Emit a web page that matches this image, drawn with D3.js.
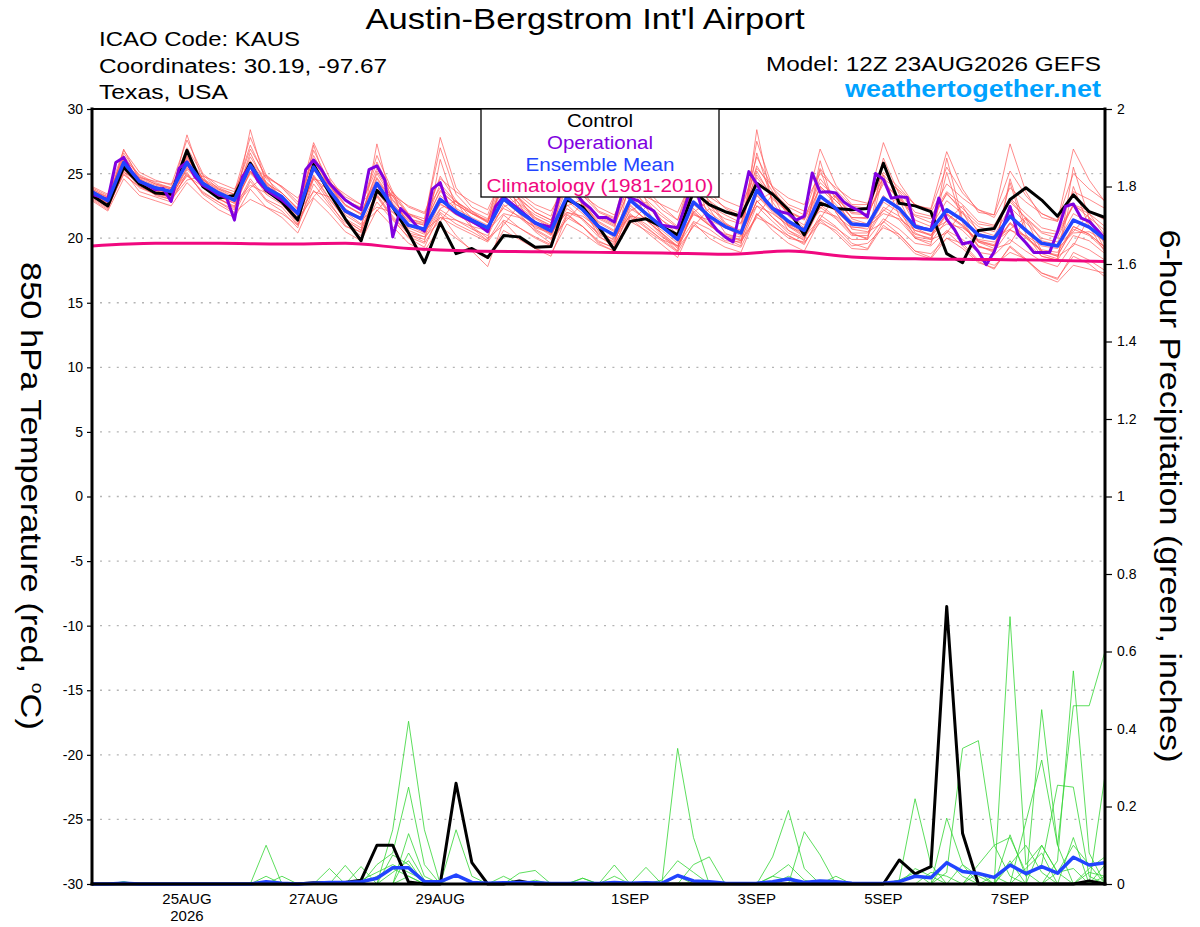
<!DOCTYPE html>
<html>
<head>
<meta charset="utf-8">
<script src="https://cdn.jsdelivr.net/npm/d3@7"></script>
<style>
  html, body { margin: 0; padding: 0; background: #fff; }
  svg { display: block; font-family: "Liberation Sans", Arial, Helvetica, sans-serif; }
</style>
</head>
<body>
<div id="chart"></div>
<script>
// ============================================================================
// GEFS METEOGRAM - KAUS 850 hPa TEMPERATURE + 6-HOUR PRECIPITATION
// ============================================================================

// --- Run / time axis ---
const runStart = new Date(Date.UTC(2026, 7, 23, 12));
const runEnd = new Date(Date.UTC(2026, 8, 8, 12));
const dateTicks = [
  new Date(Date.UTC(2026, 7, 25)), new Date(Date.UTC(2026, 7, 27)),
  new Date(Date.UTC(2026, 7, 29)), new Date(Date.UTC(2026, 8, 1)),
  new Date(Date.UTC(2026, 8, 3)), new Date(Date.UTC(2026, 8, 5)),
  new Date(Date.UTC(2026, 8, 7))
];
const dateTickLabels = ["25AUG", "27AUG", "29AUG", "1SEP", "3SEP", "5SEP", "7SEP"];
const tempTicks = [30, 25, 20, 15, 10, 5, 0, -5, -10, -15, -20, -25, -30];
const precipTicks = [0, 0.2, 0.4, 0.6, 0.8, 1, 1.2, 1.4, 1.6, 1.8, 2];

// --- 850 hPa temperature (C), 6-hourly ---
const controlTemp = [23.3, 22.5, 25.5, 24.2, 23.5, 23.4, 26.8, 24.0, 23.1, 23.3,
  25.8, 23.7, 22.8, 21.4, 25.7, 23.5, 21.5, 19.8, 23.7, 22.4,
  20.4, 18.1, 21.2, 18.8, 19.2, 18.5, 20.2, 20.1, 19.3, 19.35,
  23.0, 22.4, 20.9, 19.1, 21.3, 21.5, 20.9, 20.25, 23.6, 22.6,
  22.05, 21.7, 24.25, 23.4, 22.2, 20.25, 22.7, 22.3, 22.2, 22.3,
  25.8, 22.7, 22.5, 22.05, 18.8, 18.1, 20.6, 20.75, 23.0, 23.9,
  22.95, 21.7, 23.35, 22.05, 21.6];

const meanTemp = [23.6, 22.9, 25.85, 24.4, 23.9, 23.6, 25.85, 24.25, 23.5, 22.95,
  25.65, 23.9, 23.2, 21.9, 25.5, 23.7, 22.1, 21.5, 24.25, 22.4,
  21.0, 20.7, 23.0, 22.05, 21.4, 20.8, 23.05, 22.05, 21.2, 20.55,
  23.2, 22.2, 20.9, 20.25, 22.95, 21.9, 20.9, 19.9, 22.8, 21.7,
  20.9, 20.4, 23.7, 22.3, 21.3, 20.6, 23.25, 22.3, 21.1, 21.0,
  23.1, 22.3, 20.9, 20.6, 22.2, 21.4, 20.25, 20.0, 21.7, 20.6,
  19.6, 19.4, 21.4, 20.85, 19.9];

// operational run, 3-hourly
const operationalTemp = [23.4, 23.2, 23.0, 25.85, 26.25, 25.15, 24.4, 24.1,
  23.75, 23.85, 22.85, 25.4, 25.9, 24.75, 24.1, 23.75,
  23.35, 23.15, 21.4, 24.75, 25.6, 24.4, 23.75, 23.35,
  22.95, 22.45, 21.95, 25.3, 26.05, 25.3, 24.25, 23.6,
  22.95, 22.55, 22.2, 25.3, 25.6, 24.5, 20.1, 22.3,
  21.7, 20.95, 20.55, 23.8, 24.3, 22.45, 21.95, 21.6,
  21.3, 20.95, 20.5, 22.45, 23.2, 22.7, 22.2, 21.7,
  21.15, 21.0, 20.85, 23.2, 24.6, 23.6, 22.8, 22.3,
  21.6, 21.6, 21.25, 23.45, 23.1, 22.9, 22.45, 22.1,
  21.0, 20.9, 20.8, 22.6, 24.5, 22.4, 21.4, 20.6,
  20.1, 19.7, 22.4, 25.15, 24.2, 23.0, 22.3, 22.05,
  21.9, 21.4, 21.7, 25.05, 23.55, 23.6, 23.5, 22.8,
  22.4, 22.1, 21.65, 25.0, 24.55, 23.1, 23.2, 23.15,
  20.9, 20.75, 20.65, 23.1, 21.45, 20.65, 19.55, 19.7,
  18.95, 17.95, 18.95, 20.65, 22.45, 20.3, 19.65, 18.9,
  18.9, 18.9, 20.5, 22.45, 22.65, 21.55, 21.3, 20.65,
  19.95];

// climatology 1981-2010, daily
const climoTemp = [19.4, 19.6, 19.6, 19.55, 19.6, 19.2, 19.0, 18.95, 18.9,
  18.85, 18.75, 19.0, 18.55, 18.4, 18.35, 18.3, 18.2];

// ensemble members, 6-hourly
const memberTemps = [
  [23.8, 23.1, 26.6, 24.8, 24.2, 23.9, 27.0, 24.9, 23.8, 23.4, 27.2, 24.6, 23.5, 22.3, 26.8, 24.3, 22.9,
    22.4, 25.9, 23.4, 21.8, 21.3, 24.8, 22.9, 21.9, 21.2, 24.2, 22.6, 21.6, 21.0, 24.6, 22.9, 21.5,
    20.9, 24.0, 22.5, 21.4, 20.6, 24.1, 22.3, 21.5, 21.1, 25.2, 23.0, 22.0, 21.5, 24.6, 23.1, 21.9,
    21.8, 24.4, 23.0, 21.7, 21.2, 23.5, 22.0, 20.9, 20.5, 23.0, 21.5, 20.4, 20.0, 22.6, 21.6, 20.6],
  [23.2, 22.4, 25.0, 23.9, 23.4, 23.0, 24.9, 23.6, 22.8, 22.2, 24.6, 23.0, 22.4, 21.0, 24.2, 22.6, 21.2,
    20.4, 22.8, 21.4, 20.1, 19.6, 21.6, 20.9, 20.3, 19.7, 21.4, 20.8, 20.1, 19.5, 21.6, 20.9, 19.8,
    19.2, 21.3, 20.6, 19.8, 18.9, 21.0, 20.3, 19.7, 19.3, 21.9, 20.9, 20.2, 19.6, 21.5, 20.8, 19.9,
    19.9, 21.5, 20.7, 19.6, 19.4, 20.6, 19.9, 18.9, 18.7, 19.9, 19.0, 18.2, 17.8, 19.6, 19.1, 18.3],
  [23.5, 22.6, 26.9, 24.5, 23.7, 23.3, 28.0, 24.4, 23.1, 22.3, 28.4, 24.2, 22.7, 21.1, 27.2, 23.5, 21.4,
    20.6, 27.3, 22.5, 20.3, 19.7, 26.1, 22.3, 20.8, 19.8, 25.5, 21.9, 20.5, 19.6, 25.8, 22.4, 20.2,
    19.3, 24.6, 21.5, 20.2, 19.0, 25.1, 21.4, 20.0, 19.4, 28.4, 22.5, 20.6, 19.8, 26.0, 22.0, 20.3,
    20.0, 25.9, 22.2, 20.1, 19.9, 25.1, 21.2, 19.3, 19.1, 24.3, 20.3, 18.6, 18.3, 25.5, 21.5, 19.1],
  [23.7, 23.0, 26.1, 24.6, 24.1, 23.8, 26.2, 24.5, 23.7, 23.1, 26.0, 24.2, 23.5, 22.2, 25.8, 24.0, 22.5,
    21.9, 24.7, 22.9, 21.5, 21.2, 23.6, 22.6, 21.9, 21.4, 23.9, 22.7, 21.8, 21.2, 24.1, 22.9, 21.6,
    21.0, 23.9, 22.6, 21.7, 20.8, 23.9, 22.5, 21.8, 21.2, 24.7, 23.1, 22.1, 21.5, 24.3, 23.2, 22.0,
    21.9, 24.2, 23.1, 21.8, 21.5, 23.4, 22.3, 21.1, 20.9, 22.8, 21.6, 20.5, 20.3, 22.5, 21.9, 20.9],
  [23.9, 23.3, 26.2, 24.9, 24.3, 23.9, 25.6, 24.4, 23.6, 23.0, 25.2, 23.6, 22.9, 21.6, 24.8, 23.0, 21.5,
    20.8, 23.3, 21.6, 20.3, 19.9, 22.0, 21.1, 20.5, 19.8, 21.8, 20.8, 20.0, 19.4, 21.9, 20.9, 19.6,
    19.0, 21.6, 20.5, 19.5, 18.5, 21.2, 20.0, 19.3, 18.9, 21.9, 20.6, 19.6, 19.0, 21.4, 20.4, 19.2,
    19.1, 21.0, 20.1, 18.8, 18.4, 20.0, 19.2, 18.1, 17.7, 19.3, 18.3, 17.3, 16.9, 18.6, 18.0, 17.0],
  [23.4, 22.8, 25.5, 24.6, 23.8, 23.4, 25.4, 24.6, 23.3, 22.7, 25.1, 24.4, 23.0, 21.7, 24.6, 24.2, 22.0,
    21.1, 23.5, 23.3, 21.0, 20.4, 22.3, 22.9, 21.5, 20.5, 22.4, 23.1, 21.3, 20.3, 22.5, 23.0, 21.0,
    20.0, 22.1, 22.8, 21.0, 19.7, 22.0, 22.9, 21.2, 20.4, 22.8, 23.6, 21.7, 20.8, 22.3, 23.4, 21.5,
    21.1, 22.1, 23.3, 21.1, 20.6, 21.3, 22.5, 20.4, 20.0, 20.7, 21.6, 19.8, 19.5, 20.5, 21.9, 20.2],
  [23.6, 22.9, 26.3, 24.3, 23.8, 23.5, 26.4, 24.0, 23.4, 22.9, 26.6, 24.1, 23.3, 22.0, 26.0, 24.1, 22.6,
    21.8, 25.2, 23.2, 21.9, 21.3, 27.8, 23.9, 22.4, 21.8, 25.1, 23.3, 22.3, 21.7, 25.3, 23.6, 22.1,
    21.6, 25.9, 23.8, 22.5, 21.4, 24.6, 23.2, 22.4, 21.9, 26.3, 23.9, 22.6, 22.1, 26.9, 24.1, 22.6,
    22.6, 27.4, 24.3, 22.5, 22.3, 26.7, 23.8, 22.0, 21.8, 27.3, 23.6, 21.6, 21.3, 26.9, 24.5, 22.8],
  [23.0, 22.2, 25.2, 23.6, 23.2, 22.8, 25.1, 23.4, 22.6, 21.9, 24.4, 22.9, 22.1, 20.8, 24.6, 22.8, 21.0,
    20.2, 23.4, 21.7, 20.4, 20.1, 22.2, 21.4, 20.7, 20.2, 22.6, 21.6, 20.6, 19.9, 22.3, 21.5, 20.3,
    19.7, 22.6, 21.4, 20.4, 19.3, 22.1, 21.0, 20.2, 19.9, 22.9, 21.6, 20.6, 20.0, 22.6, 21.6, 20.4,
    20.4, 22.4, 21.7, 20.3, 20.0, 21.8, 20.9, 19.7, 19.4, 21.2, 20.1, 19.1, 18.9, 20.9, 20.3, 19.3],
  [23.5, 22.7, 25.9, 24.2, 23.6, 23.5, 26.5, 24.6, 23.9, 23.4, 26.9, 24.8, 24.0, 22.8, 26.1, 24.4, 23.2,
    22.6, 25.4, 23.5, 22.4, 21.9, 23.9, 22.8, 22.0, 21.3, 23.3, 22.1, 21.1, 20.3, 22.6, 21.4, 20.1,
    19.5, 21.9, 20.9, 19.9, 19.0, 22.3, 21.1, 20.3, 20.1, 23.3, 22.0, 20.9, 20.4, 24.0, 22.9, 21.6,
    21.6, 24.9, 23.6, 22.0, 21.7, 23.6, 22.6, 21.3, 21.0, 23.1, 21.9, 20.8, 20.5, 22.6, 22.1, 21.4],
  [23.3, 22.6, 25.6, 24.1, 23.6, 23.1, 25.5, 23.9, 23.1, 22.4, 25.2, 23.4, 22.6, 21.3, 24.9, 23.1, 21.4,
    20.6, 23.2, 21.5, 20.0, 19.3, 21.9, 20.2, 19.0, 17.8, 21.3, 20.0, 19.2, 18.6, 21.8, 20.9, 19.7,
    19.3, 22.3, 21.5, 20.6, 19.6, 22.6, 21.6, 20.8, 20.2, 23.4, 22.1, 21.1, 20.4, 22.9, 22.1, 20.9,
    20.7, 22.8, 22.0, 20.6, 20.2, 21.9, 21.0, 19.8, 19.5, 21.2, 20.1, 19.0, 18.7, 20.7, 20.2, 19.1],
  [23.7, 23.0, 25.8, 24.5, 24.0, 23.7, 26.1, 24.3, 23.6, 23.0, 25.9, 24.0, 23.3, 22.0, 25.3, 23.6, 22.0,
    21.4, 24.0, 22.3, 21.0, 20.8, 23.3, 22.3, 21.6, 21.0, 23.6, 22.4, 21.5, 20.8, 23.9, 22.6, 21.2,
    20.5, 23.2, 22.0, 21.0, 20.1, 23.4, 22.0, 21.1, 20.6, 27.5, 23.9, 21.8, 21.0, 24.0, 22.9, 21.6,
    21.5, 26.2, 23.4, 21.4, 20.9, 22.9, 21.9, 20.6, 20.2, 22.4, 21.2, 20.0, 19.7, 21.9, 21.2, 20.1],
  [23.4, 22.7, 25.3, 24.0, 23.5, 23.2, 25.3, 24.2, 23.4, 22.8, 25.0, 23.8, 23.2, 21.9, 24.7, 23.6, 22.2,
    21.6, 23.8, 22.6, 21.4, 21.0, 22.6, 22.0, 21.3, 20.9, 22.3, 21.7, 20.8, 20.4, 22.0, 21.5, 20.4,
    19.9, 21.8, 21.1, 20.1, 19.4, 21.3, 20.7, 19.8, 19.7, 21.6, 21.0, 20.0, 19.7, 21.2, 20.6, 19.4,
    19.6, 20.8, 20.3, 19.0, 18.8, 20.0, 19.6, 18.3, 17.9, 18.9, 18.4, 17.1, 16.6, 17.9, 17.6, 17.3],
  [23.6, 22.9, 26.0, 24.4, 23.9, 23.6, 25.9, 24.3, 23.5, 22.9, 25.6, 23.9, 23.2, 21.9, 25.6, 23.8, 22.2,
    21.6, 24.6, 22.7, 21.3, 21.0, 23.7, 22.6, 21.9, 21.3, 24.4, 23.0, 22.0, 21.4, 24.8, 23.3, 22.0,
    21.5, 25.1, 23.5, 22.2, 21.4, 25.3, 23.6, 22.3, 21.7, 24.9, 23.3, 22.0, 21.4, 23.9, 22.6, 21.3,
    21.0, 23.3, 22.2, 20.8, 20.2, 21.9, 21.0, 19.8, 19.4, 21.1, 20.0, 19.0, 18.6, 20.9, 20.3, 19.3],
  [23.2, 22.5, 24.9, 24.0, 23.4, 23.2, 24.8, 24.0, 23.2, 22.7, 24.1, 23.5, 22.9, 22.0, 23.6, 23.2, 22.3,
    21.4, 22.4, 22.0, 21.1, 20.6, 21.6, 21.4, 20.9, 20.6, 21.9, 21.6, 20.9, 20.5, 22.0, 21.7, 20.8,
    20.3, 21.7, 21.5, 20.8, 20.1, 21.8, 21.4, 20.8, 20.5, 22.5, 21.9, 21.0, 20.8, 22.1, 21.7, 20.8,
    20.9, 21.9, 21.5, 20.6, 20.3, 21.1, 20.8, 19.9, 19.7, 20.6, 20.2, 19.4, 19.2, 20.4, 20.5, 19.8],
  [23.5, 22.8, 25.7, 24.3, 23.8, 23.4, 25.0, 23.5, 22.8, 22.0, 23.0, 22.4, 21.9, 21.0, 23.7, 22.4, 20.9,
    20.5, 23.6, 22.0, 20.8, 20.3, 22.7, 21.8, 21.2, 20.6, 22.9, 21.9, 21.0, 20.2, 22.9, 21.9, 20.6,
    19.8, 22.5, 21.4, 20.4, 19.4, 22.0, 21.0, 20.1, 19.8, 22.9, 21.6, 20.4, 19.9, 22.4, 21.5, 20.2,
    20.2, 22.2, 21.4, 20.0, 19.7, 21.4, 20.6, 19.4, 19.0, 20.7, 19.7, 18.6, 18.3, 20.2, 19.8, 18.8],
  [23.8, 23.2, 26.4, 24.7, 24.2, 23.8, 26.3, 24.5, 23.8, 23.2, 26.3, 24.3, 23.5, 22.3, 26.4, 24.2, 22.6,
    21.9, 25.0, 23.0, 21.5, 21.1, 24.2, 22.8, 22.1, 21.5, 24.7, 23.1, 22.0, 21.4, 24.4, 22.8, 21.7,
    21.1, 24.4, 23.0, 21.9, 20.9, 24.5, 22.9, 22.0, 21.5, 25.6, 23.6, 22.4, 21.8, 25.4, 23.7, 22.5,
    22.3, 25.1, 23.9, 22.6, 22.2, 25.5, 23.5, 22.2, 21.8, 25.2, 23.3, 21.9, 21.4, 25.0, 23.8, 22.9],
  [23.1, 22.3, 25.1, 24.4, 23.3, 23.0, 24.5, 24.8, 23.0, 22.5, 23.9, 24.9, 22.8, 21.5, 23.2, 24.6, 21.8,
    21.0, 22.1, 23.6, 20.6, 20.1, 21.3, 22.9, 20.9, 20.0, 21.0, 22.6, 20.7, 20.0, 21.4, 22.7, 20.5,
    19.6, 21.2, 22.4, 20.3, 19.2, 20.9, 22.3, 20.4, 19.8, 21.7, 23.4, 20.9, 20.1, 21.5, 23.3, 20.7,
    20.5, 21.2, 23.0, 20.4, 19.9, 20.4, 22.1, 19.7, 19.2, 19.6, 21.5, 19.0, 18.6, 19.4, 21.6, 19.5],
  [24.0, 23.4, 26.8, 25.1, 24.5, 24.1, 27.6, 25.0, 24.0, 23.6, 27.8, 24.9, 23.9, 22.6, 27.4, 24.7, 23.0,
    22.3, 26.4, 23.6, 21.9, 21.5, 27.0, 23.4, 22.1, 21.2, 26.0, 22.9, 21.6, 20.9, 25.4, 22.7, 21.3,
    20.6, 26.4, 22.9, 21.4, 20.3, 25.8, 22.6, 21.1, 20.3, 26.6, 22.8, 21.0, 20.2, 25.3, 22.0, 20.4,
    19.9, 24.9, 21.7, 20.0, 19.5, 26.2, 21.4, 19.4, 18.9, 24.6, 20.8, 18.8, 18.4, 24.0, 20.9, 18.9],
  [22.9, 22.1, 24.6, 23.3, 22.9, 22.5, 24.3, 23.1, 22.2, 21.6, 23.8, 22.4, 21.6, 20.4, 23.1, 21.9, 20.5,
    19.8, 22.2, 20.9, 19.6, 19.0, 20.9, 20.0, 19.1, 18.4, 20.6, 19.9, 19.2, 18.8, 21.1, 20.4, 19.5,
    19.0, 21.7, 20.8, 19.9, 19.4, 21.9, 21.0, 20.1, 19.6, 22.5, 21.3, 20.2, 19.5, 21.8, 20.9, 19.6,
    19.2, 21.3, 20.3, 19.0, 18.5, 20.5, 19.4, 18.2, 17.6, 19.4, 18.4, 17.3, 16.8, 18.9, 18.3, 17.5],
  [23.6, 23.2, 25.4, 24.7, 24.4, 24.2, 25.6, 24.8, 24.3, 23.8, 25.9, 24.7, 24.0, 23.1, 25.2, 24.3, 23.4,
    22.6, 24.3, 23.3, 22.5, 22.0, 24.6, 23.6, 22.8, 22.2, 24.9, 23.5, 22.6, 22.1, 24.2, 23.3, 22.4,
    21.8, 24.0, 23.2, 22.6, 22.0, 24.8, 23.6, 22.9, 22.4, 25.4, 24.0, 23.1, 22.6, 25.0, 23.9, 23.0,
    22.7, 24.6, 23.7, 22.6, 22.0, 24.2, 23.1, 22.2, 21.6, 23.9, 22.8, 21.9, 21.3, 23.6, 23.0, 22.3]
];

// --- 6-hour precipitation (inches), 6-hourly ---
const controlPrecip = [0, 0, 0, 0, 0, 0, 0, 0, 0, 0,
  0, 0, 0, 0, 0.003, 0.003, 0.004, 0.01, 0.10, 0.10,
  0.005, 0, 0, 0.26, 0.055, 0, 0, 0.008, 0, 0,
  0, 0, 0, 0, 0, 0, 0, 0, 0, 0,
  0, 0, 0, 0, 0, 0, 0, 0, 0, 0,
  0, 0.062, 0.026, 0.045, 0.716, 0.131, 0, 0, 0, 0,
  0, 0, 0, 0.008, 0];

const meanPrecip = [0, 0, 0.002, 0, 0, 0, 0, 0, 0, 0,
  0, 0.006, 0.002, 0, 0.002, 0.004, 0.004, 0.006, 0.015, 0.042,
  0.042, 0.006, 0.006, 0.023, 0.004, 0.002, 0.003, 0.004, 0.003, 0.001,
  0.001, 0.002, 0.001, 0.004, 0.002, 0.003, 0.002, 0.022, 0.008, 0.006,
  0.002, 0.001, 0.002, 0.006, 0.013, 0.004, 0.008, 0.006, 0.002, 0.001,
  0.002, 0.006, 0.02, 0.016, 0.055, 0.032, 0.027, 0.017, 0.049, 0.027,
  0.045, 0.028, 0.069, 0.049, 0.055];

const memberPrecips = [
  [0, 0, 0, 0, 0, 0, 0, 0, 0, 0, 0, 0.10, 0, 0, 0, 0, 0, 0, 0, 0.14, 0.42, 0.14, 0, 0, 0,
    0, 0, 0, 0, 0, 0, 0, 0, 0, 0, 0, 0, 0, 0, 0, 0, 0, 0, 0.07, 0.19, 0.04, 0, 0, 0, 0,
    0, 0, 0, 0, 0, 0, 0, 0, 0.69, 0.05, 0.10, 0.03, 0, 0, 0.02],
  [0, 0, 0.005, 0, 0, 0, 0, 0, 0, 0, 0, 0, 0, 0, 0, 0, 0, 0, 0.05, 0.08, 0.25, 0.05, 0, 0.14, 0.02,
    0, 0, 0, 0, 0, 0, 0, 0, 0, 0, 0, 0, 0.35, 0.12, 0, 0, 0, 0, 0, 0, 0, 0, 0, 0, 0,
    0, 0, 0, 0, 0, 0, 0, 0, 0, 0, 0, 0.06, 0.55, 0.08, 0],
  [0, 0, 0, 0, 0, 0, 0, 0, 0, 0, 0, 0, 0, 0, 0, 0, 0, 0, 0, 0, 0.02, 0, 0, 0, 0,
    0, 0, 0, 0, 0, 0, 0, 0, 0, 0, 0, 0, 0, 0, 0, 0, 0, 0, 0, 0, 0, 0, 0, 0, 0,
    0, 0.01, 0.22, 0.05, 0, 0, 0, 0.02, 0, 0, 0.45, 0.10, 0.46, 0.46, 0.60],
  [0, 0, 0, 0, 0, 0, 0, 0, 0, 0, 0, 0, 0, 0, 0, 0, 0, 0, 0, 0, 0, 0, 0, 0, 0,
    0, 0, 0, 0, 0, 0, 0.015, 0, 0, 0, 0, 0, 0, 0, 0, 0, 0, 0, 0, 0, 0, 0, 0, 0, 0,
    0, 0, 0, 0, 0.03, 0.35, 0.37, 0.10, 0.02, 0, 0, 0.03, 0.10, 0.05, 0],
  [0, 0, 0, 0, 0, 0, 0, 0, 0, 0, 0, 0, 0, 0, 0, 0.04, 0, 0.045, 0, 0, 0.13, 0.02, 0, 0, 0,
    0, 0, 0, 0, 0, 0, 0, 0, 0, 0, 0, 0, 0, 0, 0, 0, 0, 0, 0.02, 0.01, 0, 0, 0, 0, 0,
    0, 0, 0, 0, 0.17, 0.05, 0, 0, 0, 0.16, 0.32, 0.10, 0, 0, 0.28],
  [0, 0, 0, 0, 0, 0, 0, 0, 0, 0, 0, 0, 0.02, 0, 0, 0, 0.048, 0, 0, 0.075, 0.05, 0, 0, 0.025, 0,
    0, 0, 0, 0, 0, 0, 0, 0, 0.049, 0, 0.043, 0, 0, 0, 0, 0, 0, 0, 0, 0, 0.135, 0.075, 0, 0, 0,
    0, 0, 0, 0, 0, 0, 0, 0, 0.127, 0.02, 0.05, 0.255, 0.25, 0.02, 0],
  [0, 0, 0, 0, 0, 0, 0, 0, 0, 0, 0, 0, 0, 0, 0, 0, 0, 0, 0, 0, 0.08, 0.01, 0, 0, 0,
    0, 0, 0.028, 0.035, 0, 0, 0, 0, 0, 0, 0, 0, 0, 0.05, 0.07, 0, 0, 0, 0, 0, 0, 0, 0, 0, 0,
    0, 0, 0.04, 0.02, 0, 0, 0.05, 0.10, 0.12, 0.03, 0, 0, 0.12, 0, 0],
  [0, 0, 0, 0, 0, 0, 0, 0, 0, 0, 0, 0, 0, 0, 0, 0, 0, 0, 0, 0.03, 0.06, 0, 0, 0, 0,
    0, 0, 0, 0, 0, 0, 0.015, 0, 0, 0, 0, 0, 0.02, 0, 0, 0, 0, 0, 0, 0.02, 0, 0, 0, 0, 0,
    0, 0, 0, 0, 0.06, 0.02, 0, 0, 0.05, 0.10, 0.03, 0, 0, 0.04, 0.07],
  [0, 0, 0.006, 0, 0, 0, 0, 0, 0, 0, 0, 0.02, 0, 0, 0, 0, 0, 0, 0.02, 0.04, 0.02, 0, 0, 0, 0,
    0, 0.02, 0, 0, 0, 0, 0, 0, 0.02, 0, 0, 0, 0, 0, 0, 0, 0, 0, 0.02, 0.05, 0.01, 0, 0, 0, 0,
    0, 0, 0, 0.03, 0.02, 0, 0.03, 0, 0.06, 0, 0.10, 0.03, 0.04, 0, 0.05],
  [0, 0, 0, 0, 0, 0, 0, 0, 0, 0, 0, 0, 0, 0, 0, 0, 0, 0.01, 0.03, 0.05, 0.03, 0.01, 0, 0, 0,
    0, 0, 0, 0.01, 0, 0, 0, 0, 0, 0, 0, 0.01, 0.06, 0.03, 0, 0, 0, 0, 0, 0, 0, 0, 0.02, 0, 0,
    0, 0.01, 0.03, 0, 0, 0.05, 0.02, 0, 0, 0.04, 0.08, 0, 0, 0.03, 0.02]
];

// --- Legend ---
const legendLabels = ["Control", "Operational", "Ensemble Mean", "Climatology (1981-2010)"];

// ============================================================================

function to_points(values, stepHours) {
  return values.map((v, i) => [d3.utcHour.offset(runStart, i * stepHours), v]);
}

function draw_meteogram(container_id) {
  const container = d3.select(container_id);
  container.selectAll("*").remove();

  const width = 1200;
  const height = 927;
  const plot = { left: 92, right: 1105, top: 109, bottom: 884 };

  const colors = {
    member: "#ff5555",
    memberPrecip: "#33d633",
    control: "#000000",
    operational: "#8000e0",
    mean: "#2244ff",
    climo: "#f0087f",
    grid: "#b4b4b4",
    brand: "#00a2ff"
  };

  const svg = container
    .append("svg")
    .attr("width", width)
    .attr("height", height);

  svg.append("rect").attr("width", width).attr("height", height).attr("fill", "#fff");

  // Scales
  const x = d3.scaleUtc().domain([runStart, runEnd]).range([plot.left, plot.right]);
  const yTemp = d3.scaleLinear().domain([-30, 30]).range([plot.bottom, plot.top]);
  const yPrecip = d3.scaleLinear().domain([0, 2]).range([plot.bottom, plot.top]);

  const tempLine = d3.line().x((d) => x(d[0])).y((d) => yTemp(d[1]));
  const precipLine = d3.line().x((d) => x(d[0])).y((d) => yPrecip(d[1]));

  // --- 1. Dotted grid ---
  svg.append("g")
    .selectAll("line")
    .data(tempTicks.filter((t) => t > -30 && t < 30))
    .enter()
    .append("line")
    .attr("x1", plot.left + 8)
    .attr("x2", plot.right)
    .attr("y1", (d) => yTemp(d))
    .attr("y2", (d) => yTemp(d))
    .attr("stroke", colors.grid)
    .attr("stroke-width", 1.3)
    .attr("stroke-dasharray", "2,6.4");

  // --- 2. Ensemble members ---
  svg.append("g")
    .selectAll("path")
    .data(memberTemps)
    .enter()
    .append("path")
    .attr("d", (d) => tempLine(to_points(d, 6)))
    .attr("fill", "none")
    .attr("stroke", colors.member)
    .attr("stroke-width", 0.8)
    .attr("stroke-opacity", 0.85);

  svg.append("g")
    .selectAll("path")
    .data(memberPrecips)
    .enter()
    .append("path")
    .attr("d", (d) => precipLine(to_points(d, 6)))
    .attr("fill", "none")
    .attr("stroke", colors.memberPrecip)
    .attr("stroke-width", 0.8);

  // --- 3. Control, operational, mean, climatology ---
  const mainLine = (d, gen, color, w) =>
    svg.append("path")
      .attr("d", gen(d))
      .attr("fill", "none")
      .attr("stroke", color)
      .attr("stroke-width", w)
      .attr("stroke-linejoin", "round");

  mainLine(to_points(controlTemp, 6), tempLine, colors.control, 3);
  mainLine(to_points(controlPrecip, 6), precipLine, colors.control, 3);
  mainLine(to_points(operationalTemp, 3), tempLine, colors.operational, 3);
  mainLine(to_points(meanTemp, 6), tempLine, colors.mean, 3.5);
  mainLine(to_points(meanPrecip, 6), precipLine, colors.mean, 3.5);

  svg.append("path")
    .attr("d", d3.line().curve(d3.curveMonotoneX)
      .x((d) => x(d[0])).y((d) => yTemp(d[1]))(to_points(climoTemp, 24)))
    .attr("fill", "none")
    .attr("stroke", colors.climo)
    .attr("stroke-width", 3);

  // --- 4. Axes ---
  const leftAxis = svg.append("g")
    .attr("transform", `translate(${plot.left},0)`)
    .call(d3.axisLeft(yTemp).tickValues(tempTicks).tickSize(5).tickPadding(4)
      .tickFormat((d) => String(d)));

  const rightAxis = svg.append("g")
    .attr("transform", `translate(${plot.right},0)`)
    .call(d3.axisRight(yPrecip).tickValues(precipTicks).tickSize(7).tickPadding(5)
      .tickFormat((d) => String(+d.toFixed(1))));

  [leftAxis, rightAxis].forEach((a) => {
    a.select(".domain").remove();
    a.selectAll("line").attr("stroke", "#000").attr("stroke-width", 1.2);
    a.selectAll("text")
      .attr("fill", "#000")
      .style("font-size", "14px")
      .style("font-family", "'Liberation Sans', Arial, sans-serif");
  });

  // Frame
  const frame = svg.append("g").attr("stroke", "#000").attr("stroke-linecap", "square");
  frame.append("line").attr("x1", plot.left).attr("x2", plot.right)
    .attr("y1", plot.top).attr("y2", plot.top).attr("stroke-width", 2);
  frame.append("line").attr("x1", plot.left).attr("x2", plot.right)
    .attr("y1", plot.bottom).attr("y2", plot.bottom).attr("stroke-width", 3);
  frame.append("line").attr("x1", plot.left).attr("x2", plot.left)
    .attr("y1", plot.top).attr("y2", plot.bottom).attr("stroke-width", 3);
  frame.append("line").attr("x1", plot.right).attr("x2", plot.right)
    .attr("y1", plot.top).attr("y2", plot.bottom).attr("stroke-width", 3);

  // Date labels
  svg.append("g")
    .selectAll("text")
    .data(dateTicks)
    .enter()
    .append("text")
    .attr("x", (d) => x(d))
    .attr("y", 904)
    .attr("text-anchor", "middle")
    .style("font-size", "15px")
    .text((d, i) => dateTickLabels[i]);

  svg.append("text")
    .attr("x", x(dateTicks[0]))
    .attr("y", 921)
    .attr("text-anchor", "middle")
    .style("font-size", "15px")
    .text(String(dateTicks[0].getUTCFullYear()));

  // Axis titles
  const leftTitle = svg.append("text")
    .attr("transform", "translate(21,496) rotate(90)")
    .attr("text-anchor", "middle")
    .attr("textLength", 468)
    .attr("lengthAdjust", "spacingAndGlyphs")
    .style("font-size", "30px");
  leftTitle.append("tspan").text("850 hPa Temperature (red, ");
  leftTitle.append("tspan").attr("dy", -11).style("font-size", "17px").text("o");
  leftTitle.append("tspan").attr("dy", 11).text("C)");

  svg.append("text")
    .attr("transform", "translate(1160,496) rotate(90)")
    .attr("text-anchor", "middle")
    .attr("textLength", 533)
    .attr("lengthAdjust", "spacingAndGlyphs")
    .style("font-size", "30px")
    .text("6-hour Precipitation (green, inches)");

  // --- 5. Header texts ---
  const header = (txt, xPos, yPos, size, len, anchor) =>
    svg.append("text")
      .attr("x", xPos)
      .attr("y", yPos)
      .attr("text-anchor", anchor)
      .attr("textLength", len)
      .attr("lengthAdjust", "spacingAndGlyphs")
      .style("font-size", size + "px")
      .text(txt);

  header("Austin-Bergstrom Int'l Airport", 585, 29, 30, 439, "middle");
  header("ICAO Code: KAUS", 99, 46, 20, 201, "start");
  header("Coordinates: 30.19, -97.67", 99, 72.5, 20, 288, "start");
  header("Texas, USA", 99, 99, 20, 129, "start");
  header("Model: 12Z 23AUG2026 GEFS", 1101, 71, 20, 335, "end");
  header("weathertogether.net", 1101, 97, 23, 256, "end")
    .style("font-weight", "bold")
    .attr("fill", colors.brand);

  // --- 6. Legend box ---
  const legendColors = [colors.control, colors.operational, colors.mean, colors.climo];
  const legendWidths = [66, 106, 149, 227];
  const legend = svg.append("g");
  legend.append("rect")
    .attr("x", 481)
    .attr("y", plot.top)
    .attr("width", 238)
    .attr("height", 88)
    .attr("fill", "#fff")
    .attr("stroke", "#000")
    .attr("stroke-width", 1.3);

  legend.selectAll("text")
    .data(legendLabels)
    .enter()
    .append("text")
    .attr("x", 600)
    .attr("y", (d, i) => 127 + i * 21.8)
    .attr("text-anchor", "middle")
    .attr("textLength", (d, i) => legendWidths[i])
    .attr("lengthAdjust", "spacingAndGlyphs")
    .attr("fill", (d, i) => legendColors[i])
    .style("font-size", "18px")
    .text((d) => d);
}

draw_meteogram("#chart");
</script>
</body>
</html>
